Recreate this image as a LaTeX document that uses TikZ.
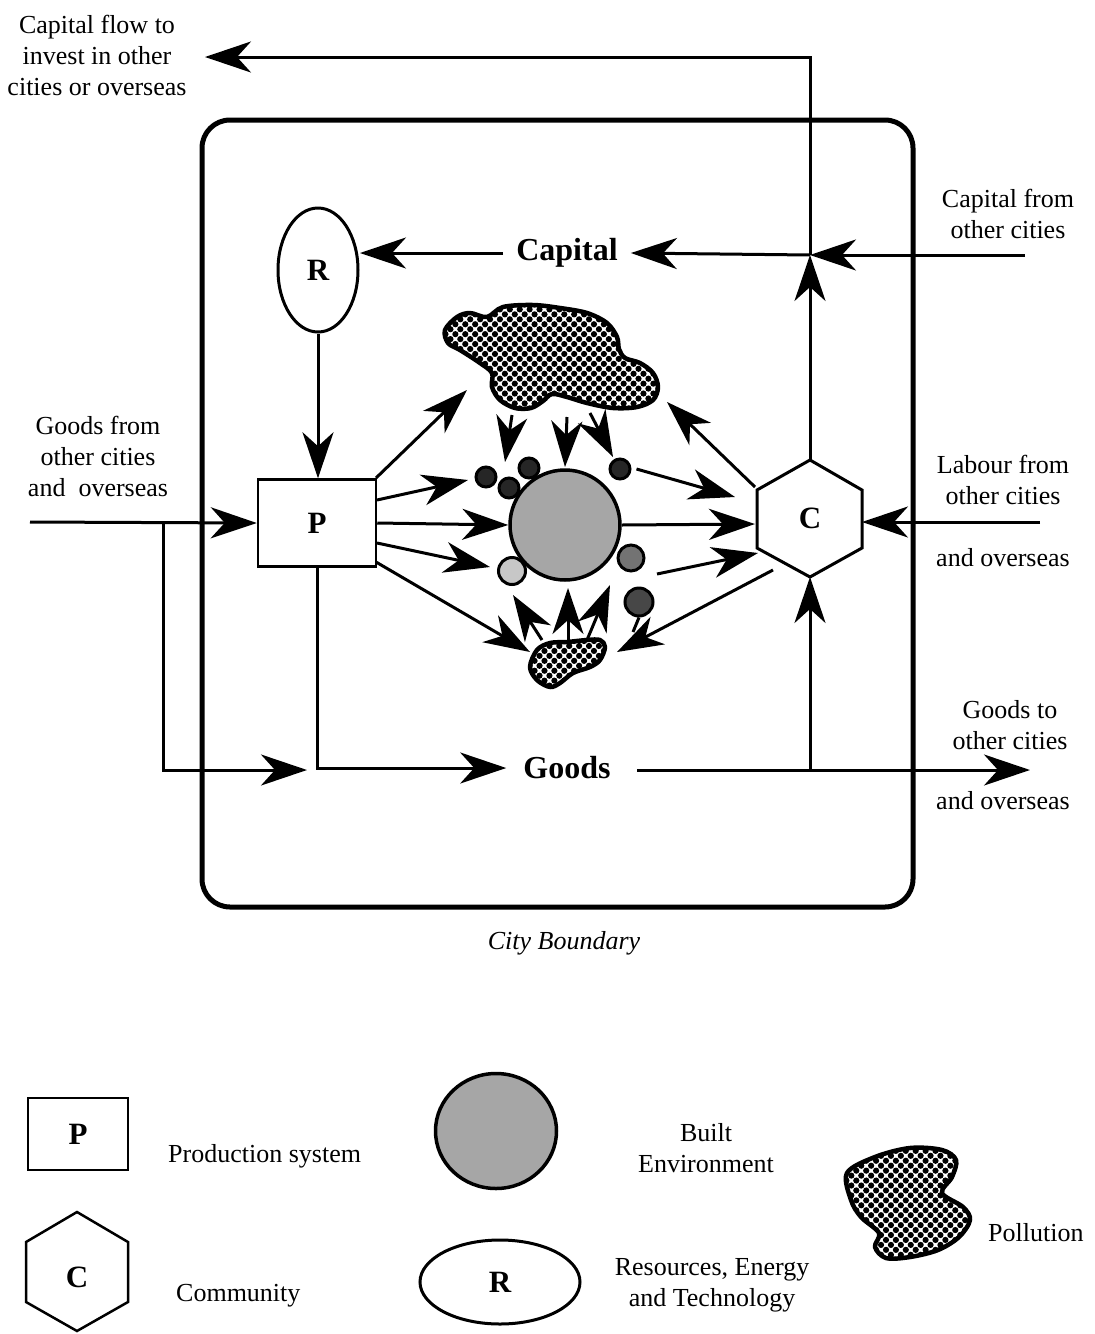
\documentclass[tikz,border=0pt]{standalone}
\usepackage{fontspec}
\setmainfont{Liberation Serif}
\usetikzlibrary{arrows.meta,patterns.meta,shapes.geometric,calc}
\begin{document}
\begin{tikzpicture}[x=1pt,y=-1pt,
  lbl/.style={font=\fontsize{26}{31}\selectfont, align=center, inner sep=0pt},
  biglbl/.style={font=\fontsize{32}{36}\selectfont\bfseries, inner sep=0pt},
  letter/.style={font=\fontsize{31}{34}\selectfont\bfseries},
  flow/.style={line width=3pt, -{Stealth[length=46pt,width=31pt,inset=14pt]}},
  plain/.style={line width=3pt},
  polln/.style={line width=4.5pt, line join=round, pattern={Dots[radius=3.1pt,distance=7pt,angle=45]}},
  blt/.style={line width=3.5pt, fill=black!35},
  small/.style={line width=3pt, draw, circle, inner sep=0pt}
]
\useasboundingbox (0,0) rectangle (1095,1334);

% city boundary
\draw[line width=5pt, rounded corners=28pt] (202,120) rectangle (913,907);
\node[font=\fontsize{26}{30}\selectfont\itshape] (cb) at (564,943) {City Boundary};

% main nodes
\node[draw, line width=3pt, ellipse, minimum width=80pt, minimum height=124pt, inner sep=0pt, letter] (R) at (318,270) {R};
\node[draw, line width=2.5pt, rectangle, minimum width=118pt, minimum height=87pt, inner sep=0pt, letter] (P) at (317,523) {P};
\draw[line width=3pt] (810,460) -- (862,490) -- (862,548) -- (810,577) -- (757,548) -- (757,490) -- cycle;
\node[letter] (C) at (810,518) {C};
\coordinate (Ctop) at (810,460);
\coordinate (Cbot) at (810,577);
\coordinate (Cright) at (862,522);

\node[biglbl, inner xsep=13pt] (cap) at (567,253) {Capital};
\node[biglbl, inner xsep=17pt] (goods) at (567,768) {Goods};

% text labels
\node[lbl] (t1) at (97,55) {Capital flow to\\invest in other\\cities or overseas};
\node[lbl] (t2) at (1008,214) {Capital from\\other cities};
\node[lbl] (t3) at (1003,480) {Labour from\\other cities};
\node[lbl] (t4) at (1003,558) {and overseas};
\node[lbl] (t5) at (98,456) {Goods from\\other cities\\and\ \ overseas};
\node[lbl] (t6) at (1010,725) {Goods to\\other cities};
\node[lbl] (t7) at (1003,801) {and overseas};

% external flow coordinates
\coordinate (capj) at (810,255);
\coordinate (capout) at (205,57);
\coordinate (capin) at (1025,255);
\coordinate (gin) at (30,522);
\coordinate (gbr) at (163,522);
\coordinate (gmid) at (307,770);
\coordinate (gout) at (1030,770);
\coordinate (gj) at (810,770);
\coordinate (gtext) at (637,770);
\coordinate (lin) at (1040,522);
\coordinate (Rin) at (360,253);

\draw[flow] (Ctop) -- (capj);
\draw[flow] (capj) |- (capout);
\draw[flow] (capin) -- (capj);
\draw[flow] (capj) -- (cap.east);
\draw[flow] (cap.west) -- (Rin);
\draw[flow] (R.south) -- (R.south |- P.north);
\draw[flow] (gin) -- (P.west);
\draw[flow] (gbr) |- (gmid);
\draw[flow] (P.south) |- (goods.west);
\draw[flow] (gtext) -- (gout);
\draw[flow] (gj) -- (Cbot);
\draw[flow] (lin) -- (Cright);

% pollution blobs
\draw[polln] plot[smooth cycle, tension=0.55] coordinates {(445,330) (457,317) (470,313) (487,317) (503,307) (533,305) (560,308) (587,313) (607,323) (617,337) (619,349) (625,358) (640,363) (653,373) (658,387) (653,400) (637,407) (613,408) (587,403) (567,397) (552,394) (543,401) (531,408) (515,408) (500,400) (492,387) (492,373) (480,363) (460,350) (448,343)};
\coordinate (topblob) at (550,355);
\draw[polln] plot[smooth cycle, tension=0.55] coordinates {(530,667) (537,650) (550,643) (567,642) (587,640) (600,640) (605,647) (600,660) (590,667) (573,673) (560,683) (550,687) (537,680)};
\coordinate (botblob) at (567,662);

% built environment
\node[draw, blt, circle, minimum size=110pt, inner sep=0pt] (BE) at (565,525) {};
\node[small, fill=black!85, minimum size=20pt] (sa) at (486,477) {};
\node[small, fill=black!85, minimum size=20pt] (sb) at (509,488) {};
\node[small, fill=black!85, minimum size=20pt] (sc) at (529,468) {};
\node[small, fill=black!85, minimum size=20pt] (sd) at (620,469) {};
\node[small, fill=black!22, minimum size=27pt] (se) at (512,571) {};
\node[small, fill=black!55, minimum size=26pt] (sf) at (631,558) {};
\node[small, fill=black!72, minimum size=28pt] (sg) at (639,602) {};

% internal arrows
\coordinate (p1) at (376,478);
\coordinate (p2) at (377,500);
\coordinate (p4) at (377,543);
\coordinate (p5) at (376,562);
\coordinate (e1) at (467,390);
\coordinate (e2) at (468,480);
\coordinate (e4) at (490,567);
\coordinate (e5) at (530,652);
\draw[flow] (p1) -- (e1);
\draw[flow] (p2) -- (e2);
\draw[flow] (P.east) -- (BE.west);
\draw[flow] (p4) -- (e4);
\draw[flow] (p5) -- (e5);

\coordinate (d1s) at (512,415); \coordinate (d1e) at (505,462);
\coordinate (d2s) at (567,417); \coordinate (d2e) at (565,467);
\coordinate (d3s) at (590,413); \coordinate (d3e) at (613,457);
\draw[flow] (d1s) -- (d1e);
\draw[flow] (d2s) -- (d2e);
\draw[flow] (d3s) -- (d3e);

\coordinate (c1) at (735,497);
\coordinate (c2) at (755,524);
\coordinate (c3) at (758,553);
\coordinate (f3) at (657,574);
\draw[flow] ([xshift=5pt]sd.east) -- (c1);
\draw[flow] (BE.east) -- (c2);
\draw[flow] (f3) -- (c3);

\coordinate (h1) at (773,570);
\coordinate (h2) at (617,652);
\coordinate (h3) at (755,487);
\coordinate (h4) at (667,402);
\draw[flow] (h1) -- (h2);
\draw[flow] (h3) -- (h4);
\draw[plain] (sg.south) -- (633,632);

\coordinate (u1s) at (542,640); \coordinate (u1e) at (513,595);
\coordinate (u2s) at (568,640); \coordinate (u2e) at (568,588);
\coordinate (u3s) at (587,640); \coordinate (u3e) at (610,585);
\draw[flow] (u1s) -- (u1e);
\draw[flow] (u2s) -- (u2e);
\draw[flow] (u3s) -- (u3e);

% legend
\node[draw, line width=2.5pt, rectangle, minimum width=100pt, minimum height=72pt, inner sep=0pt, letter] (LP) at (78,1134) {P};
\node[lbl, anchor=west] (LPt) at (168,1156) {Production system};
\draw[line width=2.5pt] (77,1212) -- (128,1242) -- (128,1302) -- (77,1331) -- (26,1302) -- (26,1242) -- cycle;
\node[letter] (LC) at (77,1277) {C};
\node[lbl, anchor=west] (LCt) at (176,1296) {Community};
\node[draw, blt, ellipse, minimum width=121pt, minimum height=115pt, inner sep=0pt] (LB) at (496,1131) {};
\node[lbl] (LBt) at (706,1148) {Built\\Environment};
\node[draw, line width=3pt, ellipse, minimum width=160pt, minimum height=84pt, inner sep=0pt, letter] (LR) at (500,1282) {R};
\node[lbl] (LRt) at (712,1285) {Resources, Energy\\and Technology};
\draw[polln] plot[smooth cycle, tension=0.55] coordinates {(847,1173) (875,1157) (910,1148) (942,1150) (956,1160) (952,1177) (942,1193) (963,1207) (970,1220) (959,1237) (938,1250) (910,1257) (886,1258) (875,1247) (879,1233) (861,1217) (851,1200)};
\node[lbl, anchor=west] (LPol) at (988,1233) {Pollution};
\end{tikzpicture}
\end{document}
